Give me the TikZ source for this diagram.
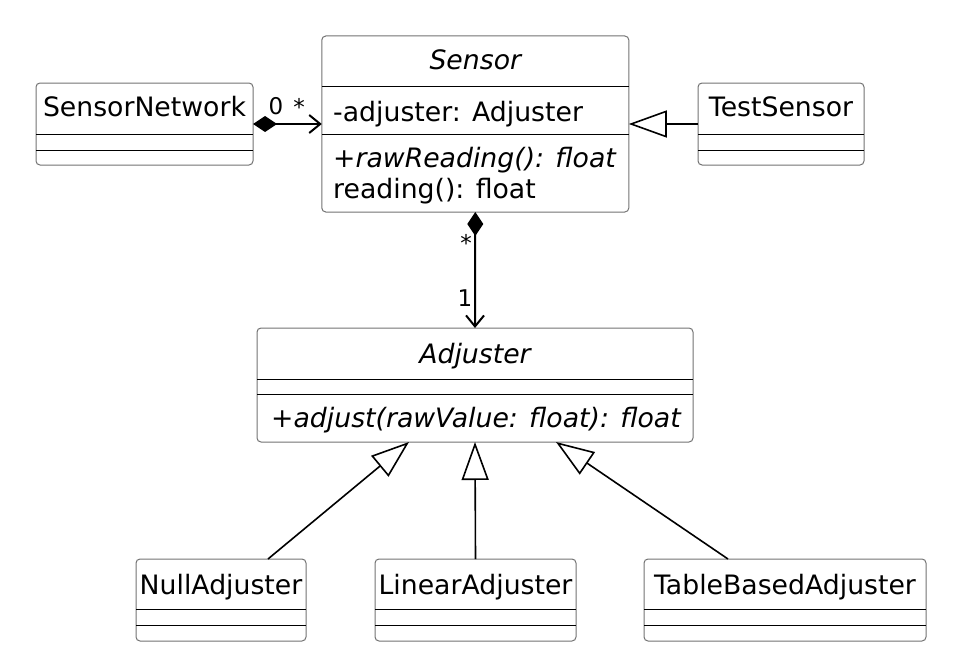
\documentclass[tikz,border=0pt]{standalone}
\usepackage{fontspec}
\setmainfont{DejaVu Sans}
\usetikzlibrary{arrows.meta,calc}
\begin{document}
\begin{tikzpicture}[x=1pt,y=-1pt,
 classbox/.style={draw=black!55, line width=1pt, rounded corners=4pt, inner sep=0pt, outer sep=0pt, fill=white},
 sepline/.style={line width=0.9pt, black},
 lbl/.style={font=\fontsize{26.7}{31}\selectfont, inner sep=0pt, anchor=base},
 lbll/.style={lbl, anchor=base west},
 mult/.style={font=\fontsize{23}{26}\selectfont, inner sep=0pt},
 assoc/.style={line width=2pt, {Diamond[length=24pt,width=16pt]}-{Straight Barb[length=11pt,width=18pt]}},
 gen/.style={line width=1.6pt, -{Triangle[open,length=38pt,width=27pt,fill=white]}}
]
\useasboundingbox (0,0) rectangle (974,669);

% class boxes
\node[classbox, minimum width=217pt, minimum height=82pt] (sn) at (144.5,124) {};
\node[classbox, minimum width=307pt, minimum height=176pt] (sensor) at (475.3,124) {};
\node[classbox, minimum width=166pt, minimum height=82pt] (ts) at (781,124) {};
\node[classbox, minimum width=436pt, minimum height=114pt] (adj) at (475,385) {};
\node[classbox, minimum width=170pt, minimum height=82pt] (null) at (221,600) {};
\node[classbox, minimum width=201pt, minimum height=82pt] (lin) at (475.5,600) {};
\node[classbox, minimum width=282pt, minimum height=82pt] (tba) at (785,600) {};

% separators
\draw[sepline] (sn.west|-0,134) -- (sn.east|-0,134);
\draw[sepline] (sn.west|-0,150) -- (sn.east|-0,150);
\draw[sepline] (sensor.west|-0,86.7) -- (sensor.east|-0,86.7);
\draw[sepline] (sensor.west|-0,134) -- (sensor.east|-0,134);
\draw[sepline] (ts.west|-0,134) -- (ts.east|-0,134);
\draw[sepline] (ts.west|-0,150) -- (ts.east|-0,150);
\draw[sepline] (adj.west|-0,379) -- (adj.east|-0,379);
\draw[sepline] (adj.west|-0,394) -- (adj.east|-0,394);
\foreach \b in {null,lin,tba}{
  \draw[sepline] (\b.west|-0,609) -- (\b.east|-0,609);
  \draw[sepline] (\b.west|-0,625) -- (\b.east|-0,625);
}

% texts
\node[lbl] (tsn) at (144.5,116.5) {SensorNetwork};
\node[lbl] (tsensor) at (475.3,70) {\itshape Sensor};
\node[lbll] (tatt) at (333,121) {-adjuster: Adjuster};
\node[lbll] (tm1) at (333,167) {\itshape +rawReading(): float};
\node[lbll] (tm2) at (333,198) {reading(): float};
\node[lbl] (tts) at (781,116.5) {TestSensor};
\node[lbl] (tadj) at (475,363) {\itshape Adjuster};
\node[lbll] (tadjm) at (271,427) {\itshape +adjust(rawValue: float): float};
\node[lbl] (tnull) at (221,594) {NullAdjuster};
\node[lbl] (tlin) at (475.5,594) {LinearAdjuster};
\node[lbl] (ttba) at (785,594) {TableBasedAdjuster};

% connectors
\draw[assoc] (sn.east) -- (sensor.west);
\draw[assoc] (sensor.south) -- (adj.north);
\draw[gen] (ts.west) -- (sensor.east);
\draw[gen] ([xshift=47pt]null.north) -- ([xshift=-66pt]adj.south);
\draw[gen] (lin.north) -- (adj.south);
\draw[gen] ([xshift=-57pt]tba.north) -- ([xshift=81pt]adj.south);

% multiplicities
\node[mult] (m0) at (276,106) {0};
\node[mult] (m1) at (299,107) {*};
\node[mult] (m2) at (466,243) {*};
\node[mult] (m3) at (465,298) {1};
\end{tikzpicture}
\end{document}
